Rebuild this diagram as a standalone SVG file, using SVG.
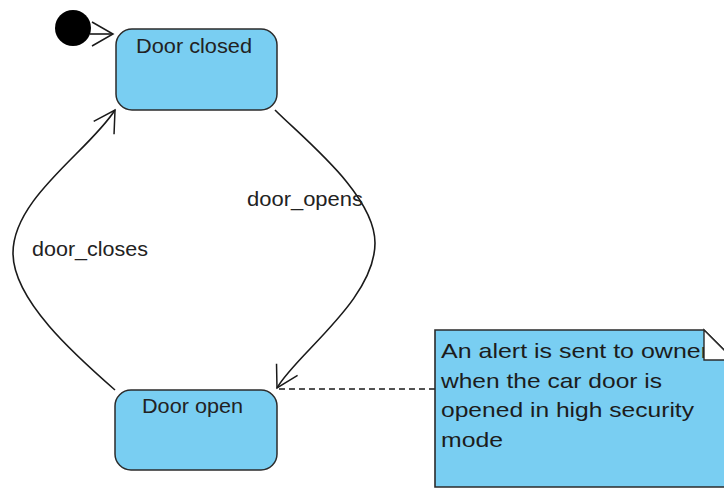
<svg xmlns="http://www.w3.org/2000/svg" width="724" height="490" viewBox="0 0 724 490">
  <defs>
    <style>
      .state { fill: #79CEF2; stroke: #2b2b2b; stroke-width: 1.5; }
      .label { font-family: "Liberation Sans", Arial, sans-serif; font-size: 20px; fill: #222; }
      .note-text { font-family: "Liberation Sans", Arial, sans-serif; font-size: 21px; fill: #1c1c1c; }
      .edge { fill: none; stroke: #1a1a1a; stroke-width: 1.6; }
      .dash { fill: none; stroke: #1a1a1a; stroke-width: 1.4; stroke-dasharray: 6 4; }
    </style>
    <marker id="open-arrow" markerUnits="userSpaceOnUse" markerWidth="30" markerHeight="30" viewBox="-24 -15 26 30" refX="0" refY="0" orient="auto">
      <path d="M-21,-12 L0,0 L-21,12" fill="none" stroke="#1a1a1a" stroke-width="1.5"/>
    </marker>
  </defs>

  <rect width="724" height="490" fill="#ffffff"/>

  <!-- transitions -->
  <g id="connectors">
    <line class="edge" x1="90" y1="34" x2="113" y2="34" marker-end="url(#open-arrow)"/>
    <path class="edge" d="M275,110 C305,140 375,195 375,243 C375,300 295,355 277,388" marker-end="url(#open-arrow)"/>
    <path class="edge" d="M115,390 C75,355 13,300 13,253 C13,198 90,150 115,110" marker-end="url(#open-arrow)"/>
    <line class="dash" x1="435" y1="389" x2="278" y2="389"/>
    <text class="label" x="247" y="206" textLength="116" lengthAdjust="spacingAndGlyphs">door_opens</text>
    <text class="label" x="32" y="256" textLength="116" lengthAdjust="spacingAndGlyphs">door_closes</text>
  </g>

  <g id="initial">
    <circle cx="73" cy="28" r="18" fill="#000"/>
  </g>

  <g id="door-closed">
    <rect class="state" x="116" y="29" width="161" height="81" rx="16" ry="16"/>
    <text class="label" x="136" y="53" textLength="116" lengthAdjust="spacingAndGlyphs">Door closed</text>
  </g>

  <g id="door-open">
    <rect class="state" x="115" y="390" width="162" height="80" rx="16" ry="16"/>
    <text class="label" x="142" y="413" textLength="101" lengthAdjust="spacingAndGlyphs">Door open</text>
  </g>

  <g id="note">
    <path class="state" d="M435,330 L704,330 L734,360 L734,487 L435,487 Z" style="stroke-width:1.6"/>
    <text class="note-text" x="441" y="358" textLength="268" lengthAdjust="spacingAndGlyphs">An alert is sent to owner</text>
    <text class="note-text" x="441" y="388" textLength="221" lengthAdjust="spacingAndGlyphs">when the car door is</text>
    <text class="note-text" x="441" y="417" textLength="253" lengthAdjust="spacingAndGlyphs">opened in high security</text>
    <text class="note-text" x="441" y="447" textLength="62" lengthAdjust="spacingAndGlyphs">mode</text>
    <path d="M704,330 L704,360 L734,360 Z" fill="#ffffff" stroke="#2b2b2b" stroke-width="1.4"/>
  </g>
</svg>
